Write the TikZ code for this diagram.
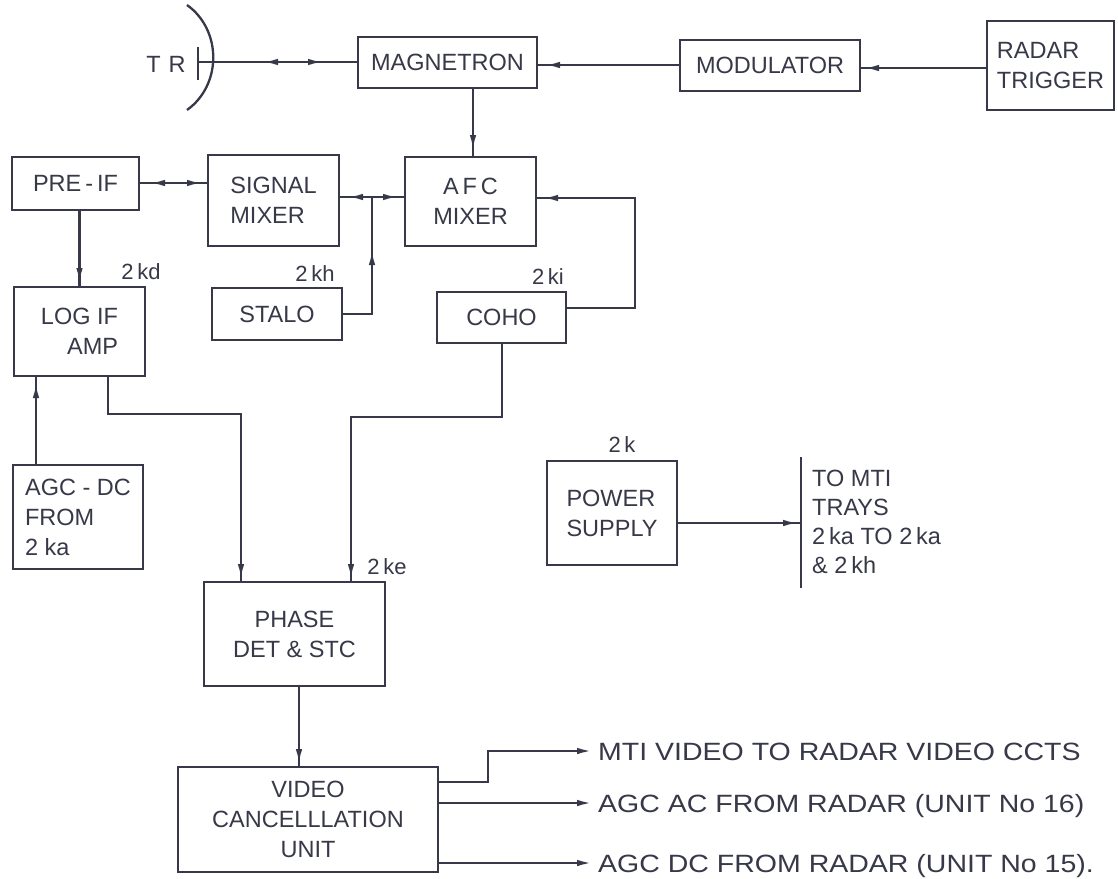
\documentclass[tikz,border=0pt]{standalone}
\usepackage{fontspec}
\setmainfont{Liberation Sans}
\usetikzlibrary{arrows.meta,decorations.markings,calc}
\definecolor{ink}{RGB}{55,57,72}
\begin{document}
\begin{tikzpicture}[x=1pt,y=-1pt,
  line/.style={color=ink,line width=2.3pt},
  >={Latex[length=15pt,width=6.5pt]},
  fwd/.style={postaction={decorate,decoration={markings,mark=at position #1 with {\arrow{>}}}}},
  bwd/.style={postaction={decorate,decoration={markings,mark=at position #1 with {\arrowreversed{>}}}}},
  box/.style={draw=ink,line width=2.3pt,text=ink,inner sep=0pt,outer sep=0pt,font=\fontsize{23.5}{30}\selectfont,align=center},
  lbl/.style={text=ink,inner sep=0pt,font=\fontsize{22}{26}\selectfont},
  txt/.style={text=ink,inner sep=0pt,font=\fontsize{23.5}{29}\selectfont,align=left},
  outtxt/.style={text=ink,inner sep=0pt,font=\fontsize{25}{30}\selectfont},
]
\useasboundingbox (0,0) rectangle (1118,878);
\fill[white] (0,0) rectangle (1118,878);

% boxes
\node[box,minimum width=179pt,minimum height=51pt] (mag) at (447.5,62.5) {MAGNETRON};
\node[box,minimum width=180pt,minimum height=51pt] (mod) at (770,65.5) {MODULATOR};
\node[box,minimum width=127pt,minimum height=89pt,align=left] (trig) at (1050.5,65.5) {RADAR\\TRIGGER};
\node[box,minimum width=127pt,minimum height=53pt] (preif) at (75.5,183.5) {PRE\,-\,IF};
\node[box,minimum width=131pt,minimum height=91pt,align=left] (sigmix) at (273.5,200.5) {SIGNAL\\MIXER};
\node[box,minimum width=131pt,minimum height=89pt] (afc) at (470.5,201.5) {A\,F\,C\\MIXER};
\node[box,minimum width=130pt,minimum height=52pt] (stalo) at (277,314) {STALO};
\node[box,minimum width=129pt,minimum height=51pt] (coho) at (501.5,317.5) {COHO};
\node[box,minimum width=131pt,minimum height=89pt,align=right] (logif) at (79.5,331.5) {LOG IF\\AMP};
\node[box,minimum width=130pt,minimum height=104pt,align=left] (agc) at (78,517) {AGC - DC\\FROM\\2 ka};
\node[box,minimum width=181pt,minimum height=104pt] (phase) at (294.5,634) {PHASE\\DET \& STC};
\node[box,minimum width=260pt,minimum height=105pt] (vcu) at (308,819.5) {VIDEO\\CANCELLLATION\\UNIT};
\node[box,minimum width=130pt,minimum height=104pt,align=left] (ps) at (612,513) {POWER\\SUPPLY};

% labels
\node[txt] (tr) at (166,64) {T\hspace{8pt}R};
\node[lbl] (l2kd) at (141,272) {2\,kd};
\node[lbl] (l2kh) at (315,274) {2\,kh};
\node[lbl] (l2ki) at (548,277) {2\,ki};
\node[lbl] (l2ke) at (387,567) {2\,ke};
\node[lbl] (l2k) at (622,445) {2\,k};
\node[txt,anchor=west] (trays) at (812,522) {TO MTI\\TRAYS\\2\,ka TO 2\,ka\\\& 2\,kh};

% antenna
\coordinate (trbar) at (198,62);
\draw[line] (198,47) -- (198,80);
\draw[line] (187,5) .. controls (222,30) and (222,85) .. (187,110);

% connectors
\draw[line,bwd=65pt,fwd=125pt] (trbar) -- (trbar -| mag.west);
\coordinate (ym) at (0,65);
\draw[line,fwd=135pt] (mod.west |- ym) -- (mag.east |- ym);
\coordinate (yt) at (0,68);
\draw[line,fwd=123pt] (trig.west |- yt) -- (mod.east |- yt);
\coordinate (xma) at (473,0);
\draw[line,fwd=62pt] (mag.south -| xma) -- (afc.north -| xma);
\coordinate (yp) at (0,183);
\draw[line,bwd=11pt,fwd=63pt] (preif.east |- yp) -- (sigmix.west |- yp);
\coordinate (j1) at (372,197);
\draw[line,bwd=9pt,fwd=59pt] (sigmix.east |- j1) -- (afc.west |- j1);
\draw[line,fwd=94pt] (stalo.east) -- (stalo.east -| j1) -- (j1);
\coordinate (c1) at (635,198);
\draw[line,fwd=271pt] ($(coho.east)+(0,-9.5)$) coordinate (c0) -- (c0 -| c1) -- (c1) -- (afc.east |- c1);
\draw[line,fwd=73pt] (preif.south -| logif.north) -- (logif.north);
\coordinate (xa) at (36,0);
\draw[line,fwd=82pt] (agc.north -| xa) -- (logif.south -| xa);
\coordinate (l1) at (108,414);
\coordinate (xl) at (241,0);
\draw[line,fwd=336pt] (logif.south -| l1) -- (l1) -- (l1 -| xl) -- (phase.north -| xl);
\coordinate (k1) at (502,417);
\coordinate (xk) at (351,0);
\draw[line,fwd=387pt] (coho.south -| k1) -- (k1) -- (k1 -| xk) -- (phase.north -| xk);
\coordinate (xv) at (299,0);
\draw[line,fwd=78pt] (phase.south -| xv) -- (vcu.north -| xv);

\coordinate (o1) at (592,751);
\coordinate (b1) at (488,782);
\draw[line,->] (vcu.east |- b1) -- (b1) -- (b1 |- o1) -- (o1);
\coordinate (o2) at (592,803);
\draw[line,->] (vcu.east |- o2) -- (o2);
\coordinate (o3) at (592,863);
\draw[line,->] (vcu.east |- o3) -- (o3);

\coordinate (pb) at (801,523);
\draw[line,fwd=121pt] (ps.east |- pb) -- (pb);
\draw[line] (801,457) -- (801,588);

% output texts
\node[outtxt,anchor=base west] (t1) at (598,760) {\scalebox{1.14}[1]{MTI VIDEO TO RADAR VIDEO CCTS}};
\node[outtxt,anchor=base west] (t2) at (598,812) {\scalebox{1.14}[1]{AGC AC FROM RADAR (UNIT No 16)}};
\node[outtxt,anchor=base west] (t3) at (598,872) {\scalebox{1.14}[1]{AGC DC FROM RADAR (UNIT No 15).}};
\end{tikzpicture}
\end{document}
